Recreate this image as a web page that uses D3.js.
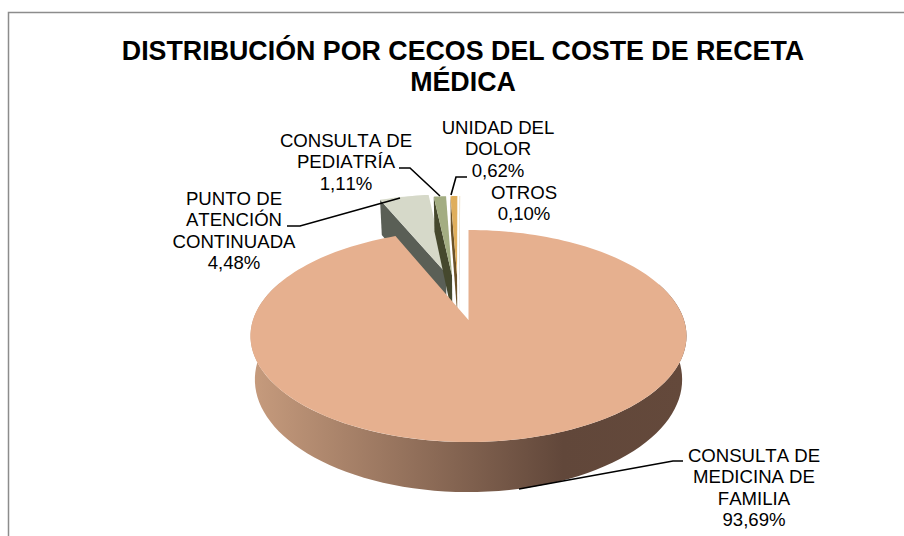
<!DOCTYPE html>
<html>
<head>
<meta charset="utf-8">
<script src="https://cdn.jsdelivr.net/npm/d3@7"></script>
<style>
html, body { margin: 0; padding: 0; background: #fff; }
svg { display: block; }
text { font-family: "Liberation Sans", Arial, sans-serif; fill: #000; }
.label { font-kerning: none; }
</style>
</head>
<body>
<svg width="904" height="536"></svg>
<script>
const titleLines = ["DISTRIBUCIÓN POR CECOS DEL COSTE DE RECETA", "MÉDICA"];
const categories = ["CONSULTA DE MEDICINA DE FAMILIA", "PUNTO DE ATENCIÓN CONTINUADA", "CONSULTA DE PEDIATRÍA", "UNIDAD DEL DOLOR", "OTROS"];
const values = [93.69, 4.48, 1.11, 0.62, 0.10];
const valueLabels = ["93,69%", "4,48%", "1,11%", "0,62%", "0,10%"];
const topColors = ["#e6b08f", "#d6d9c9", "#a3ad82", "#dfae5c", "#efe6d2"];
const wallColors = ["#62483a", "#5a5f56", "#45482d", "#6b5228", "#8a8270"];
const explode = [0, 0.5, 0.46, 0.46, 0.46];
// small sideways nudge of the pulled out slices, in disk units
const nudge = [0, 0.015, -0.045, -0.045, -0.045];

const width = 904, height = 536;
const svg = d3.select("svg");

// plain perspective on the unit disk, apex of the main slice at cx,cy
const cx = 468.5, cy = 320, persp = 0.151, K = 103.6, X = 215.5, depth = 42.5;
function project(u, v, low) {
  const s = 1 / (1 - persp * v);
  const px = X * u * s, py = K * v * s;
  return low ? [cx + px * 0.98, cy + py + depth * s] : [cx + px, cy + py];
}

const pie = d3.pie().sort(null).startAngle(0).endAngle(2 * Math.PI);
const slices = pie(values).map((d, i) => {
  const mid = (d.startAngle + d.endAngle) / 2;
  return {
    i, a0: d.startAngle, a1: d.endAngle,
    ox: Math.sin(mid) * explode[i] + nudge[i], oy: -Math.cos(mid) * explode[i]
  };
});

const line = d3.line();
const rim = (s, a, low) => project(s.ox + Math.sin(a), s.oy - Math.cos(a), low);
const apex = (s, low) => project(s.ox, s.oy, low);
const steps = (a0, a1, n) => d3.range(n + 1).map(k => a0 + (a1 - a0) * k / n);

const defs = svg.append("defs");
const grad = defs.append("linearGradient").attr("id", "wall")
  .attr("gradientUnits", "userSpaceOnUse")
  .attr("x1", cx - X).attr("x2", cx + X).attr("y1", 0).attr("y2", 0);
grad.append("stop").attr("offset", 0).attr("stop-color", "#c69b7d");
grad.append("stop").attr("offset", 0.72).attr("stop-color", "#61473a");
grad.append("stop").attr("offset", 1).attr("stop-color", "#64493b");

// frame
svg.append("path")
  .attr("d", `M8.5,${height}V12.5H${width}`)
  .attr("fill", "none").attr("stroke", "#8c8c8c").attr("stroke-width", 1.5);

// exploded slices, left to right
slices.slice(1).forEach(s => {
  const g = svg.append("g");
  g.append("path").attr("fill", wallColors[s.i])
    .attr("d", line([apex(s), rim(s, s.a0), rim(s, s.a0, true), apex(s, true)]) + "Z");
  g.append("path").attr("fill", topColors[s.i])
    .attr("d", line([apex(s), ...steps(s.a0, s.a1, 12).map(a => rim(s, a))]) + "Z");
});

// main slice: outer wall then top face
const main = slices[0];
svg.append("path").attr("fill", "url(#wall)")
  .attr("d", line([
    ...steps(1.2, 5.1, 90).map(a => rim(main, a)),
    ...steps(5.1, 1.2, 90).map(a => rim(main, a, true))
  ]) + "Z");
svg.append("path").attr("fill", topColors[0])
  .attr("d", line([apex(main), ...steps(main.a0, main.a1, 180).map(a => rim(main, a))]) + "Z");

// leader lines
const leaders = [
  [[519, 489], [673, 461], [683, 461]],
  [[287, 226], [300, 226], [400, 198]],
  [[399, 168], [410, 168], [440, 196]],
  [[467, 177], [456, 177], [451, 195]]
];
leaders.forEach(l => svg.append("path").attr("d", line(l))
  .attr("fill", "none").attr("stroke", "#000").attr("stroke-width", 1.6));

// title
svg.append("g").selectAll("text").data(titleLines).join("text")
  .attr("x", 463).attr("y", (d, i) => 60 + i * 31)
  .attr("text-anchor", "middle").attr("font-size", 26.8).attr("font-weight", "bold")
  .text(d => d);

// data labels
const labelLines = [
  ["CONSULTA DE", "MEDICINA DE", "FAMILIA", valueLabels[0]],
  ["PUNTO DE", "ATENCIÓN", "CONTINUADA", valueLabels[1]],
  ["CONSULTA DE", "PEDIATRÍA", valueLabels[2]],
  ["UNIDAD DEL", "DOLOR", valueLabels[3]],
  [categories[4], valueLabels[4]]
];
const labelPos = [[754, 462], [234, 205], [346, 147], [498, 134], [524, 199]];
labelLines.forEach((lines, i) => {
  svg.append("g").selectAll("text").data(lines).join("text")
    .attr("class", "label")
    .attr("x", labelPos[i][0]).attr("y", (d, k) => labelPos[i][1] + k * 21.4)
    .attr("text-anchor", "middle").attr("font-size", 18.6)
    .text(d => d);
});
</script>
</body>
</html>
